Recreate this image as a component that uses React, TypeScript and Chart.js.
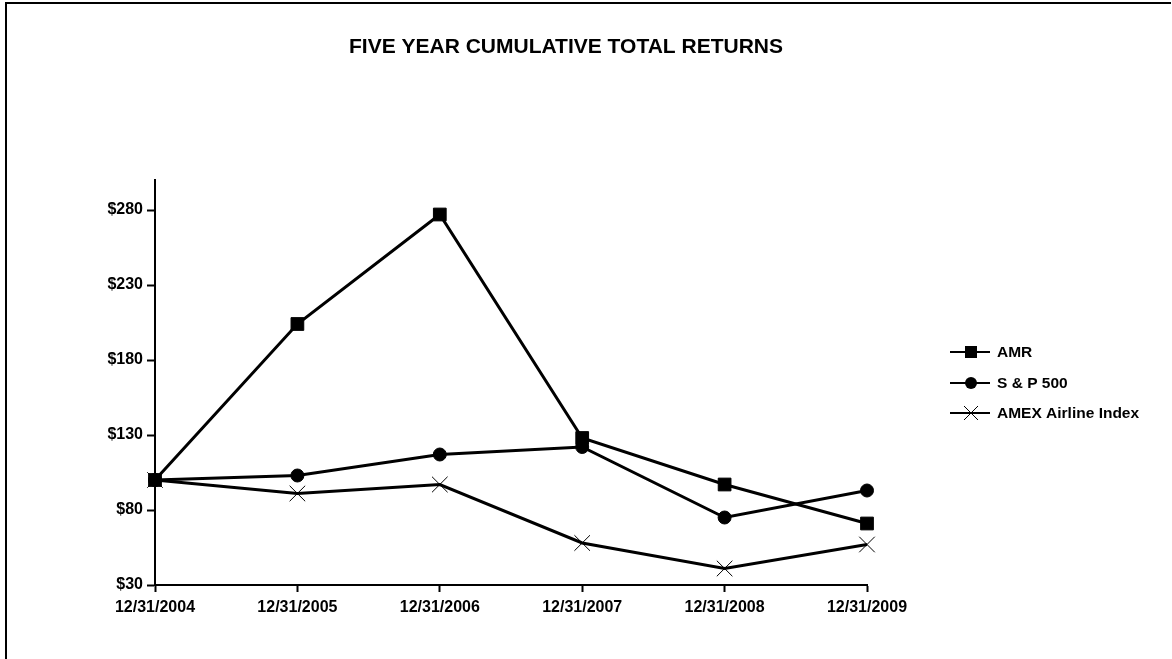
import React, { useEffect, useRef } from "react";
import { Chart, registerables } from "chart.js";

Chart.register(...registerables);

const categories = ["12/31/2004", "12/31/2005", "12/31/2006", "12/31/2007", "12/31/2008", "12/31/2009"];
const amrValues = [100, 204, 277, 128, 97, 71];
const sp500Values = [100, 103, 117, 122, 75, 93];
const amexValues = [100, 91, 97, 58, 41, 57];
const yTickValues = [30, 80, 130, 180, 230, 280];
const seriesNames = ["AMR", "S & P 500", "AMEX Airline Index"];
const titleText = "FIVE YEAR CUMULATIVE TOTAL RETURNS";

const FONT = "'Liberation Sans', Arial, sans-serif";

const framePlugin = {
  id: "frameAndText",
  afterDraw(chart: any) {
    const ctx = chart.ctx as CanvasRenderingContext2D;
    ctx.save();
    // frame
    ctx.strokeStyle = "#000";
    ctx.lineWidth = 2;
    ctx.beginPath();
    ctx.moveTo(6, 700);
    ctx.lineTo(6, 3);
    ctx.lineTo(1171, 3);
    ctx.stroke();
    // title
    ctx.fillStyle = "#000";
    ctx.font = `bold 21px ${FONT}`;
    ctx.textAlign = "center";
    ctx.textBaseline = "middle";
    ctx.fillText(titleText, 566, 47);
    // legend
    const rows = [352, 383, 413];
    const styles = ["rect", "circle", "crossRot"];
    ctx.font = `bold 15.5px ${FONT}`;
    ctx.textAlign = "left";
    rows.forEach((y, i) => {
      ctx.strokeStyle = "#000";
      ctx.fillStyle = "#000";
      ctx.lineWidth = 2;
      ctx.beginPath();
      ctx.moveTo(950, y);
      ctx.lineTo(990, y);
      ctx.stroke();
      const cx = 971;
      if (styles[i] === "rect") {
        ctx.fillRect(cx - 6, y - 6, 12, 12);
      } else if (styles[i] === "circle") {
        ctx.beginPath();
        ctx.arc(cx, y, 6, 0, Math.PI * 2);
        ctx.fill();
      } else {
        ctx.lineWidth = 1;
        ctx.beginPath();
        ctx.moveTo(cx - 7, y - 7);
        ctx.lineTo(cx + 7, y + 7);
        ctx.moveTo(cx - 7, y + 7);
        ctx.lineTo(cx + 7, y - 7);
        ctx.stroke();
      }
      ctx.fillStyle = "#000";
      ctx.fillText(seriesNames[i], 997, y + 1);
    });
    ctx.restore();
  },
};

export default function App() {
  const ref = useRef<HTMLCanvasElement | null>(null);

  useEffect(() => {
    document.body.style.margin = "0";
    document.body.style.background = "#fff";
    if (!ref.current) return;
    const tickFont = { family: FONT, size: 16, weight: "bold" as const };
    const common = {
      borderColor: "#000",
      backgroundColor: "#000",
      borderWidth: 3,
      pointBorderWidth: 1,
      pointBackgroundColor: "#000",
      pointBorderColor: "#000",
      tension: 0,
    };
    const chart = new Chart(ref.current, {
      type: "line",
      data: {
        labels: categories,
        datasets: [
          { ...common, label: seriesNames[0], data: amrValues, pointStyle: "rect", pointRadius: 9 },
          { ...common, label: seriesNames[1], data: sp500Values, pointStyle: "circle", pointRadius: 6.5 },
          { ...common, label: seriesNames[2], data: amexValues, pointStyle: "crossRot", pointRadius: 11 },
        ],
      },
      options: {
        animation: false,
        responsive: false,
        events: [],
        layout: { padding: { top: 180, right: 305, left: 0, bottom: 0 } },
        plugins: {
          legend: { display: false },
          title: { display: false },
          tooltip: { enabled: false },
        },
        scales: {
          x: {
            type: "category",
            offset: false,
            grid: {
              display: true,
              drawOnChartArea: false,
              tickLength: 7,
              tickColor: "#000",
              tickWidth: 2,
            },
            border: { display: true, color: "#000", width: 2 },
            ticks: {
              color: "#000",
              font: tickFont,
              padding: 6,
              maxRotation: 0,
              autoSkip: false,
            },
            afterFit: (s: any) => {
              s.height = 74;
            },
          },
          y: {
            min: 30,
            max: 300,
            grid: {
              display: true,
              drawOnChartArea: false,
              tickLength: 8,
              tickColor: "#000",
              tickWidth: 2,
            },
            border: { display: true, color: "#000", width: 2 },
            ticks: {
              color: "#000",
              font: tickFont,
              padding: 4,
              callback: (v: any) => "$" + v,
            },
            afterBuildTicks: (s: any) => {
              s.ticks = yTickValues.map((v) => ({ value: v }));
            },
            afterFit: (s: any) => {
              s.width = 155;
            },
          },
        },
      },
      plugins: [framePlugin],
    });
    return () => chart.destroy();
  }, []);

  return (
    <canvas
      ref={ref}
      width={1172}
      height={659}
      style={{ display: "block", width: 1172, height: 659 }}
    />
  );
}
